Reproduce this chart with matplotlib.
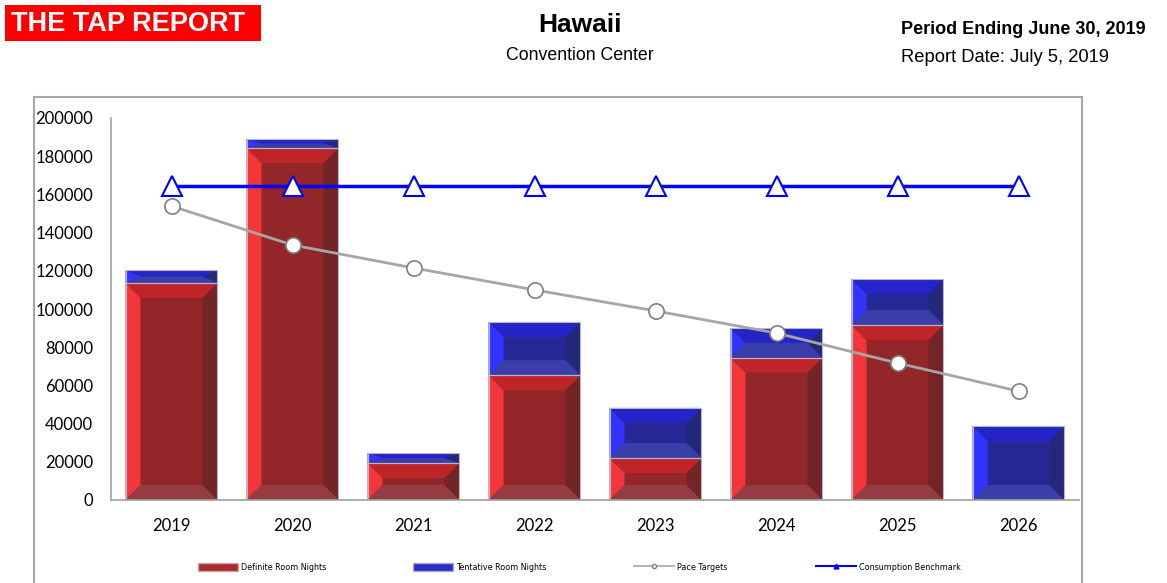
import numpy as np
import matplotlib
matplotlib.use("Agg")
from matplotlib import pyplot as plt
from matplotlib.patches import Polygon, Rectangle, Patch
from matplotlib.lines import Line2D

years = ['2019', '2020', '2021', '2022', '2023', '2024', '2025', '2026']
definite = [113600, 184300, 19400, 65400, 22000, 74500, 91600, 0]
tentative = [6800, 4700, 5200, 27800, 26200, 15500, 24100, 38700]
pace = [153900, 133500, 121500, 110000, 99000, 87400, 71700, 57000]
benchmark = [164400] * 8
yticks = [0, 20000, 40000, 60000, 80000, 100000, 120000, 140000, 160000, 180000, 200000]

W, H = 1167, 583
fig = plt.figure(figsize=(W / 100, H / 100), dpi=100)
ax = fig.add_axes([111 / W, 83 / H, 968 / W, 382 / H])

red = dict(center='#922628', left='#F2363A', top='#BE2428', right='#722426', bottom='#953C42')
blue = dict(center='#262896', left='#3333FF', top='#2424C8', right='#25277A', bottom='#3A3EA8')

x = np.arange(len(years))
ax.set_xlim(-0.5, len(years) - 0.5)
ax.set_ylim(0, 200000)

# bevel size ~15 px, converted to data units
bx = 15 / 121
by = 15 * 200000 / 382


def bevel(bars, c):
    for r in bars:
        x0, y0 = r.get_x(), r.get_y()
        x1, y1 = x0 + r.get_width(), y0 + r.get_height()
        if y1 - y0 <= 0:
            continue
        ey = min(by, (y1 - y0) / 2)
        ex = min(bx, (x1 - x0) / 2)
        ix0, ix1, iy0, iy1 = x0 + ex, x1 - ex, y0 + ey, y1 - ey
        parts = [
            ('left', [(x0, y0), (ix0, iy0), (ix0, iy1), (x0, y1)]),
            ('right', [(x1, y0), (ix1, iy0), (ix1, iy1), (x1, y1)]),
            ('top', [(x0, y1), (ix0, iy1), (ix1, iy1), (x1, y1)]),
            ('bottom', [(x0, y0), (ix0, iy0), (ix1, iy0), (x1, y0)]),
        ]
        for name, pts in parts:
            ax.add_patch(Polygon(pts, closed=True, facecolor=c[name], edgecolor='none', zorder=2.1))
        ax.add_patch(Rectangle((x0, y0), x1 - x0, y1 - y0, facecolor='none',
                               edgecolor='#B8B4D0', lw=0.8, zorder=2.2))


b1 = ax.bar(x, definite, width=0.76, color=red['center'], zorder=2)
b2 = ax.bar(x, tentative, width=0.76, bottom=definite, color=blue['center'], zorder=2)
bevel(b1, red)
bevel(b2, blue)

ax.plot(x, pace, color='#A6A6A6', lw=2, marker='o', ms=11, mfc='white', mec='#7F7F7F',
        mew=1.2, zorder=3)
ax.plot(x, benchmark, color='#0000FF', lw=2.5, marker='^', ms=15, mfc='white', mec='#0000FF',
        mew=1.5, zorder=4)

ax.set_xticks(x)
ax.set_xticklabels(years, fontsize=12, family='Lato')
ax.set_yticks(yticks)
ax.set_yticklabels([str(v) for v in yticks], fontsize=12, family='Lato')
ax.tick_params(length=0)
ax.tick_params(axis='y', pad=13)
ax.tick_params(axis='x', pad=13)
for s in ['top', 'right']:
    ax.spines[s].set_visible(False)
for s in ['left', 'bottom']:
    ax.spines[s].set_color('#A0A0A0')
    ax.spines[s].set_linewidth(1.2)

# outer chart frame
fig.patches.append(Rectangle((34 / W, -0.05), (1082 - 34) / W, (H - 97) / H + 0.05,
                             transform=fig.transFigure, fill=False, edgecolor='#A6A6A6', lw=1.5))

# legend
handles = [
    Patch(facecolor='#AA2A2E', edgecolor='#C8A8A8', label='Definite Room Nights'),
    Patch(facecolor='#2A2EC0', edgecolor='#A8A8D0', label='Tentative Room Nights'),
    Line2D([], [], color='#A6A6A6', lw=1.2, marker='o', ms=3, mfc='white', mec='#7F7F7F',
           label='Pace Targets'),
    Line2D([], [], color='#0000FF', lw=1.5, marker='^', ms=3.5, mfc='#0000FF', mec='#0000FF',
           label='Consumption Benchmark'),
]
lx = [198, 413, 634, 816]
for h, px in zip(handles, lx):
    fig.legend(handles=[h], loc='center left', bbox_to_anchor=(px / W, 1 - 567 / H),
               frameon=False, fontsize=5.8, handlelength=5, handleheight=1.1,
               handletextpad=0.3, borderpad=0, borderaxespad=0)

# header
fig.patches.append(Rectangle((5 / W, 1 - 41 / H), 256 / W, 36 / H, transform=fig.transFigure,
                             facecolor='#FF0000', edgecolor='none', zorder=0))
fig.text(11 / W, 1 - 24 / H, 'THE TAP REPORT', color='white', fontsize=19.5, fontweight='bold',
         family='Liberation Sans', va='center', ha='left')
fig.text(580 / W, 1 - 25 / H, 'Hawaii', fontsize=19, fontweight='bold', family='Liberation Sans',
         ha='center', va='center')
fig.text(580 / W, 1 - 56 / H, 'Convention Center', fontsize=12.8, family='Liberation Sans',
         ha='center', va='center')
fig.text(901 / W, 1 - 29 / H, 'Period Ending June 30, 2019', fontsize=13, fontweight='bold',
         family='Liberation Sans', ha='left', va='center')
fig.text(901 / W, 1 - 57 / H, 'Report Date: July 5, 2019', fontsize=13.2, family='Liberation Sans',
         ha='left', va='center')

fig.savefig('out.png', dpi=100)
